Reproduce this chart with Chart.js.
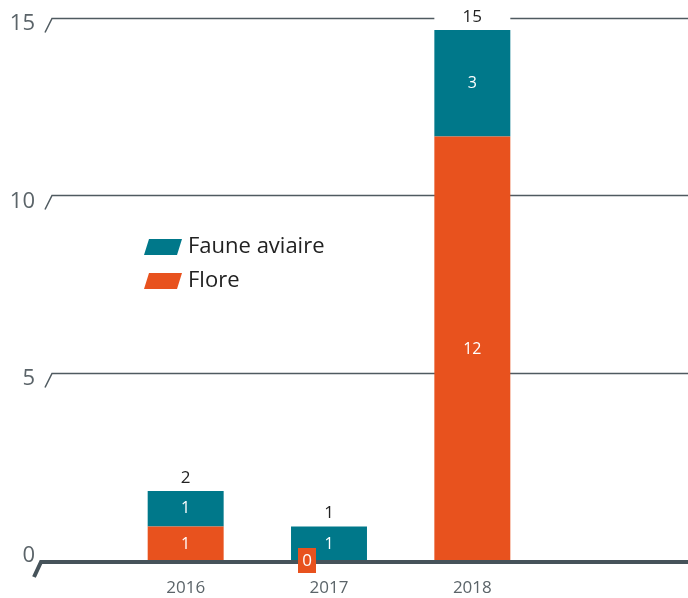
<!DOCTYPE html>
<html>
<head>
<meta charset="utf-8">
<script src="https://cdn.jsdelivr.net/npm/chart.js@4/dist/chart.umd.min.js"></script>
<style>
html,body{margin:0;padding:0;background:#fff;}
#wrap{width:688px;height:598px;position:relative;}
</style>
</head>
<body>
<div id="wrap"><canvas id="c" width="688" height="598"></canvas></div>
<script>
const categories = ['2016', '2017', '2018'];
const floreValues = [1, 0, 12];
const fauneValues = [1, 1, 3];
const yTickValues = [0, 5, 10, 15];
const seriesNames = ['Flore', 'Faune aviaire'];

const TEAL = '#00788a';
const ORANGE = '#e8521e';
const FONT = '"Open Sans", "Liberation Sans", sans-serif';

const decor = {
  id: 'decor',
  beforeDatasetsDraw(chart) {
    const ctx = chart.ctx, y = chart.scales.y;
    ctx.save();
    yTickValues.forEach(v => {
      const p = y.getPixelForValue(v);
      if (v > 0) {
        const g = Math.round(p - 12) + 0.5;
        ctx.strokeStyle = '#4f5a60';
        ctx.lineWidth = 1.5;
        ctx.beginPath();
        ctx.moveTo(45, g + 14);
        ctx.lineTo(52, g);
        ctx.lineTo(688, g);
        ctx.stroke();
      }
      ctx.fillStyle = '#5b6469';
      ctx.font = '22px ' + FONT;
      ctx.textAlign = 'right';
      ctx.textBaseline = 'middle';
      ctx.fillText(String(v), 35, p - 6);
    });
    // legend
    const items = [
      {label: seriesNames[1], color: TEAL, y: 247},
      {label: seriesNames[0], color: ORANGE, y: 281}
    ];
    items.forEach(it => {
      ctx.fillStyle = it.color;
      ctx.beginPath();
      ctx.moveTo(149, it.y - 8);
      ctx.lineTo(182, it.y - 8);
      ctx.lineTo(177, it.y + 8);
      ctx.lineTo(144, it.y + 8);
      ctx.closePath();
      ctx.fill();
      ctx.fillStyle = '#222';
      ctx.font = '22px ' + FONT;
      ctx.textAlign = 'left';
      ctx.textBaseline = 'middle';
      ctx.fillText(it.label, 188, it.y);
    });
    ctx.restore();
  },
  afterDatasetsDraw(chart) {
    const ctx = chart.ctx, y = chart.scales.y, x = chart.scales.x;
    ctx.save();
    const base = y.getPixelForValue(0);
    // axis
    ctx.strokeStyle = '#46535a';
    ctx.lineWidth = 4;
    ctx.beginPath();
    ctx.moveTo(34, base + 15);
    ctx.lineTo(41, base);
    ctx.lineTo(688, base);
    ctx.stroke();
    // x labels
    ctx.fillStyle = '#5b6469';
    ctx.font = '17px ' + FONT;
    ctx.textAlign = 'center';
    ctx.textBaseline = 'middle';
    categories.forEach((c, i) => ctx.fillText(c, x.getPixelForValue(i), base + 26));
    // segment labels
    chart.data.datasets.forEach((ds, di) => {
      const meta = chart.getDatasetMeta(di);
      meta.data.forEach((el, i) => {
        const v = ds.data[i];
        ctx.font = '16px ' + FONT;
        ctx.textAlign = 'center';
        ctx.textBaseline = 'middle';
        if (v > 0) {
          ctx.fillStyle = '#fff';
          ctx.fillText(String(v), el.x, (el.y + el.base) / 2);
        } else {
          const cx = el.x - 22;
          ctx.fillStyle = ds.backgroundColor;
          ctx.fillRect(cx - 9, base - 14, 18, 25);
          ctx.fillStyle = '#fff';
          ctx.font = '17px ' + FONT;
          ctx.fillText(String(v), cx, base - 1);
        }
      });
    });
    // totals
    const meta0 = chart.getDatasetMeta(0);
    categories.forEach((c, i) => {
      const total = floreValues[i] + fauneValues[i];
      const top = y.getPixelForValue(total);
      const el = meta0.data[i];
      const w = el.width;
      ctx.fillStyle = '#fff';
      ctx.fillRect(el.x - w / 2, top - 24, w, 20);
      ctx.fillStyle = '#222';
      ctx.font = '17px ' + FONT;
      ctx.textAlign = 'center';
      ctx.textBaseline = 'middle';
      ctx.fillText(String(total), el.x, top - 13);
    });
    ctx.restore();
  }
};

new Chart(document.getElementById('c'), {
  type: 'bar',
  data: {
    labels: categories,
    datasets: [
      {label: seriesNames[0], data: floreValues, backgroundColor: ORANGE, borderWidth: 0, barPercentage: 0.53, categoryPercentage: 1},
      {label: seriesNames[1], data: fauneValues, backgroundColor: TEAL, borderWidth: 0, barPercentage: 0.53, categoryPercentage: 1}
    ]
  },
  options: {
    responsive: false,
    animation: false,
    layout: {padding: {top: 30, bottom: 36, left: 114, right: 144}},
    scales: {
      x: {stacked: true, display: false},
      y: {stacked: true, display: false, min: 0, max: 15}
    },
    plugins: {legend: {display: false}, tooltip: {enabled: false}}
  },
  plugins: [decor]
});
</script>
</body>
</html>
